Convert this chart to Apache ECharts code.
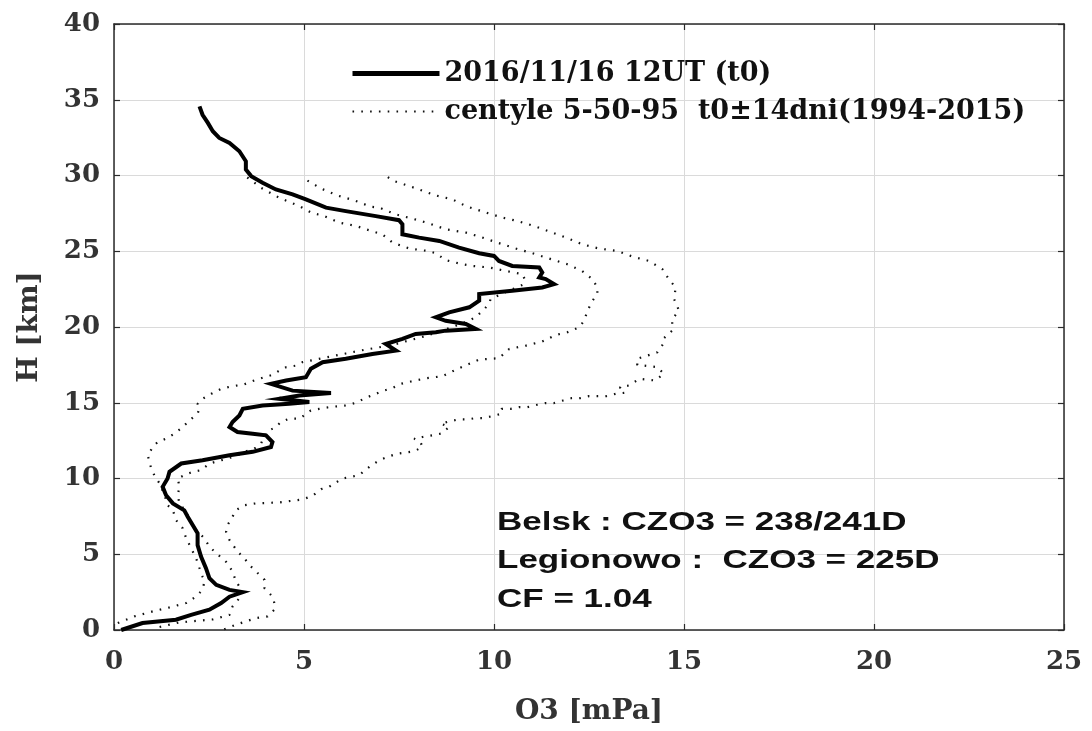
<!DOCTYPE html>
<html>
<head>
<meta charset="utf-8">
<script src="https://cdn.jsdelivr.net/npm/echarts@6/dist/echarts.min.js"></script>
<style>
  html, body { margin: 0; padding: 0; background: #fff; }
  #chart { width: 1092px; height: 731px; }
</style>
</head>
<body>
<div id="chart"></div>
<script>
// Ozone sounding: O3 partial pressure [mPa] vs altitude H [km]
const xTicks = [0, 5, 10, 15, 20, 25];
const yTicks = [0, 5, 10, 15, 20, 25, 30, 35, 40];

const seriesNames = ['2016/11/16 12UT (t0)', 'centyle 5-50-95  t0\u00b114dni(1994-2015)'];

// profile of 2016/11/16 12UT: [O3, H]
const profileO3 = [0.19,0.75,1.63,2.03,2.51,2.82,3.04,3.39,3.04,2.69,2.51,2.42,2.29,2.2,2.2,2.07,1.94,1.85,1.55,1.37,1.28,1.41,1.46,1.77,2.33,3.04,3.65,4.13,4.17,4.0,3.65,3.25,3.04,3.12,3.3,3.39,3.91,4.61,5.14,4.35,4.88,5.71,4.7,4.13,4.53,5.05,5.18,5.49,6.1,6.8,7.42,7.15,7.59,7.94,8.47,8.73,9.52,9.26,8.73,8.47,8.82,9.35,9.61,9.61,10.48,11.27,11.58,11.36,11.19,11.27,11.19,10.48,10.13,10.0,9.61,9.08,8.56,8.03,7.59,7.59,7.5,6.89,6.1,5.58,5.05,4.7,4.26,3.91,3.61,3.47,3.47,3.3,3.04,2.77,2.6,2.47,2.33,2.25];
const profileH  = [0.0,0.46,0.68,1.0,1.34,1.78,2.2,2.5,2.65,2.98,3.42,4.08,4.85,5.6,6.38,6.93,7.48,7.9,8.36,8.9,9.45,10.0,10.44,10.99,11.2,11.53,11.76,12.08,12.41,12.85,12.96,13.07,13.4,13.73,14.16,14.6,14.82,14.93,15.05,15.26,15.48,15.64,15.8,16.25,16.47,16.69,17.24,17.68,17.9,18.22,18.44,18.88,19.21,19.54,19.65,19.76,19.87,20.2,20.41,20.64,20.97,21.3,21.73,22.17,22.39,22.61,22.83,23.16,23.27,23.6,23.93,24.03,24.36,24.69,24.87,25.24,25.68,25.9,26.12,26.78,27.05,27.32,27.65,27.88,28.42,28.75,29.08,29.52,29.96,30.39,30.94,31.6,32.15,32.48,32.92,33.47,34.01,34.56];

// climatological percentiles (1994-2015), 5th
const p5O3 = [0.1,0.54,1.02,1.46,1.9,2.16,2.33,2.38,2.33,2.25,2.16,2.03,1.9,1.81,1.63,1.55,1.41,1.33,1.2,1.06,0.98,0.93,0.89,1.02,1.15,1.37,1.59,1.81,1.99,2.2,2.25,2.2,2.33,2.56,2.82,3.12,3.39,3.69,3.96,4.17,4.35,4.53,4.79,4.96,5.5,6.1,6.6,7.3,8.2,9.0,9.35,9.56,9.74,9.87,9.91,10.3,10.77,10.8,10.75,10.31,9.87,9.43,9.17,8.73,8.47,8.25,7.77,7.33,7.06,6.63,6.37,5.93,5.49,5.23,4.88,4.35,3.87,3.65,3.43];
const p5H  = [0.46,0.9,1.23,1.49,1.78,2.21,2.65,3.2,3.53,4.08,4.74,5.4,6.05,6.71,7.26,7.91,8.24,8.9,9.67,10.22,10.66,11.1,11.53,12.08,12.41,12.63,12.96,13.4,13.84,14.28,14.61,14.93,15.26,15.59,15.92,16.1,16.18,16.47,16.69,16.84,17.12,17.35,17.45,17.68,17.95,18.25,18.5,18.8,19.4,20.09,20.41,20.74,21.18,21.51,21.84,22.3,22.8,23.2,23.49,23.7,23.93,24.03,24.14,24.41,24.87,25.02,25.18,25.57,26.12,26.45,26.67,26.89,27.37,27.5,27.98,28.53,29.19,29.62,30.0];

// 50th
const p50O3 = [1.2,1.72,2.16,2.6,3.04,3.12,3.3,3.39,3.21,3.12,2.95,2.69,2.51,2.38,2.16,1.98,1.9,1.72,1.68,1.72,1.68,1.85,2.07,2.29,2.51,2.73,2.99,3.25,3.47,3.69,3.87,3.96,4.09,4.26,4.39,4.61,4.88,5.18,5.4,5.66,6.1,6.37,6.63,6.89,7.11,7.33,7.55,7.81,8.21,8.64,8.86,9.08,9.35,9.61,10.13,10.4,10.84,11.27,11.62,11.93,12.24,12.37,12.46,12.59,12.72,12.72,12.59,12.32,11.93,11.45,11.01,10.57,10.09,9.61,9.26,8.73,8.29,7.86,7.42,6.98,6.76,6.32,5.88,5.45,5.01];
const p50H  = [0.2,0.5,0.6,0.7,1.0,1.56,2.1,2.55,3.2,3.86,4.5,5.07,5.5,6.05,6.6,7.26,7.81,8.36,8.9,9.45,10.0,10.22,10.44,10.55,10.99,11.14,11.32,11.53,11.8,11.97,12.3,12.85,13.18,13.4,13.73,13.95,13.95,14.49,14.6,14.71,14.82,15.0,15.33,15.59,15.81,15.97,16.25,16.4,16.62,16.75,17.02,17.28,17.57,17.85,17.94,18.55,18.77,19.04,19.47,19.65,19.98,20.41,21.07,21.73,22.17,22.61,23.16,23.7,24.14,24.52,24.87,25.18,25.57,25.97,26.23,26.45,26.84,27.15,27.43,27.88,27.94,28.36,28.68,29.14,29.78];

// 95th
const p95O3 = [2.9,3.21,3.47,3.74,4.04,4.22,4.22,4.17,3.96,3.96,3.74,3.56,3.43,3.25,3.04,2.95,2.99,3.12,3.21,3.43,3.74,4.35,4.96,5.23,5.45,5.66,6.01,6.45,6.72,6.98,7.2,7.46,7.9,8.12,8.07,7.9,8.12,8.38,8.6,8.82,8.6,8.82,9.06,9.3,9.52,9.74,9.96,10.2,10.2,10.44,10.66,10.88,11.14,11.36,11.58,11.82,12.05,12.28,12.5,12.73,12.96,13.2,13.45,13.31,13.55,13.83,14.24,14.47,14.3,13.77,13.77,14.3,14.47,14.47,14.69,14.69,14.87,14.74,14.78,14.6,14.43,14.08,13.64,13.24,12.76,12.32,11.97,11.54,11.05,10.61,10.22,9.74,9.26,8.91,8.47,8.03,7.64,7.37,7.16];
const p95H  = [0.05,0.35,0.57,0.79,0.9,1.34,1.78,2.21,2.76,3.31,3.86,4.3,4.74,5.18,5.94,6.49,6.93,7.48,7.91,8.24,8.36,8.42,8.62,8.86,9.3,9.45,10.0,10.22,10.77,11.2,11.43,11.64,11.8,12.08,12.37,12.63,12.74,12.85,12.96,13.4,13.62,13.77,13.9,13.9,13.99,13.99,14.12,14.28,14.6,14.6,14.71,14.71,14.87,14.98,14.98,15.15,15.31,15.31,15.44,15.44,15.44,15.59,15.66,16.03,16.14,16.58,16.47,16.91,17.35,17.5,17.9,18.33,18.95,19.26,19.76,20.53,21.07,21.84,22.61,23.16,23.82,24.36,24.65,25.02,25.18,25.46,25.83,26.23,26.67,27.0,27.22,27.59,27.98,28.42,28.68,29.08,29.41,29.63,29.96];

const annotationLines = ['Belsk : CZO3 = 238/241D', 'Legionowo :  CZO3 = 225D', 'CF = 1.04'];

const pairs = (xs, ys) => xs.map((v, i) => [v, ys[i]]);

const SERIF = 'DejaVu Serif';
const SANS = 'Liberation Sans';

const chart = echarts.init(document.getElementById('chart'), null, { renderer: 'canvas' });

const gridLine = { show: true, lineStyle: { color: '#dadada', width: 1 } };
const boxLine = { show: true, onZero: false, lineStyle: { color: '#2b2b2b', width: 1.5 } };
const tickIn = { show: true, inside: true, length: 6, lineStyle: { color: '#2b2b2b', width: 1.2 } };

const dotted = { color: '#111', width: 2.2, type: [1.6, 7.2] };

chart.setOption({
  animation: false,
  backgroundColor: '#fff',
  grid: { left: 114, right: 28, top: 24, bottom: 99, containLabel: false },
  legend: {
    data: [
      { name: seriesNames[0], itemStyle: { opacity: 0 }, lineStyle: { width: 5, color: '#000', type: 'solid' } },
      { name: seriesNames[1], itemStyle: { opacity: 0 }, lineStyle: { width: 2, color: '#111', type: [1.6, 7.2] } }
    ],
    orient: 'vertical',
    left: 345,
    top: 55,
    itemWidth: 87,
    itemHeight: 16,
    itemGap: 11,
    textStyle: { fontFamily: SERIF, fontWeight: 'bold', fontSize: 27, color: '#111', lineHeight: 27 }
  },
  xAxis: [
    {
      type: 'value', min: xTicks[0], max: xTicks[xTicks.length - 1], interval: 5,
      name: 'O3 [mPa]', nameLocation: 'middle', nameGap: 68,
      nameTextStyle: { fontFamily: SERIF, fontWeight: 'bold', fontSize: 28, color: '#333' },
      axisLine: boxLine, axisTick: tickIn, splitLine: gridLine,
      axisLabel: { margin: 19, fontFamily: SERIF, fontWeight: 'bold', fontSize: 26, color: '#333' }
    },
    {
      type: 'value', position: 'top', min: xTicks[0], max: xTicks[xTicks.length - 1], interval: 5,
      axisLine: boxLine, axisTick: tickIn, axisLabel: { show: false }, splitLine: { show: false }
    }
  ],
  yAxis: [
    {
      type: 'value', min: yTicks[0], max: yTicks[yTicks.length - 1], interval: 5,
      name: 'H [km]', nameLocation: 'middle', nameGap: 70,
      nameTextStyle: { fontFamily: SERIF, fontWeight: 'bold', fontSize: 28, color: '#333' },
      axisLine: boxLine, axisTick: tickIn, splitLine: gridLine,
      axisLabel: { margin: 14, fontFamily: SERIF, fontWeight: 'bold', fontSize: 26, color: '#333' }
    },
    {
      type: 'value', position: 'right', min: yTicks[0], max: yTicks[yTicks.length - 1], interval: 5,
      axisLine: boxLine, axisTick: tickIn, axisLabel: { show: false }, splitLine: { show: false }
    }
  ],
  series: [
    {
      name: seriesNames[1], type: 'line', data: pairs(p5O3, p5H),
      symbol: 'none', lineStyle: dotted, itemStyle: { color: '#111' }, z: 2
    },
    {
      name: seriesNames[1], type: 'line', data: pairs(p50O3, p50H),
      symbol: 'none', lineStyle: dotted, itemStyle: { color: '#111' }, z: 2
    },
    {
      name: seriesNames[1], type: 'line', data: pairs(p95O3, p95H),
      symbol: 'none', lineStyle: dotted, itemStyle: { color: '#111' }, z: 2
    },
    {
      name: seriesNames[0], type: 'line', data: pairs(profileO3, profileH),
      symbol: 'none', lineStyle: { color: '#000', width: 4, join: 'miter' },
      itemStyle: { color: '#000' }, z: 3
    }
  ],
  graphic: annotationLines.map((t, i) => ({
    type: 'text',
    x: 497,
    y: 523 + i * 38.5,
    scaleX: 1.4,
    z: 10,
    style: {
      text: t,
      font: 'bold 25px "' + SANS + '"',
      fill: '#111',
      textAlign: 'left',
      textVerticalAlign: 'middle'
    }
  }))
});
</script>
</body>
</html>
